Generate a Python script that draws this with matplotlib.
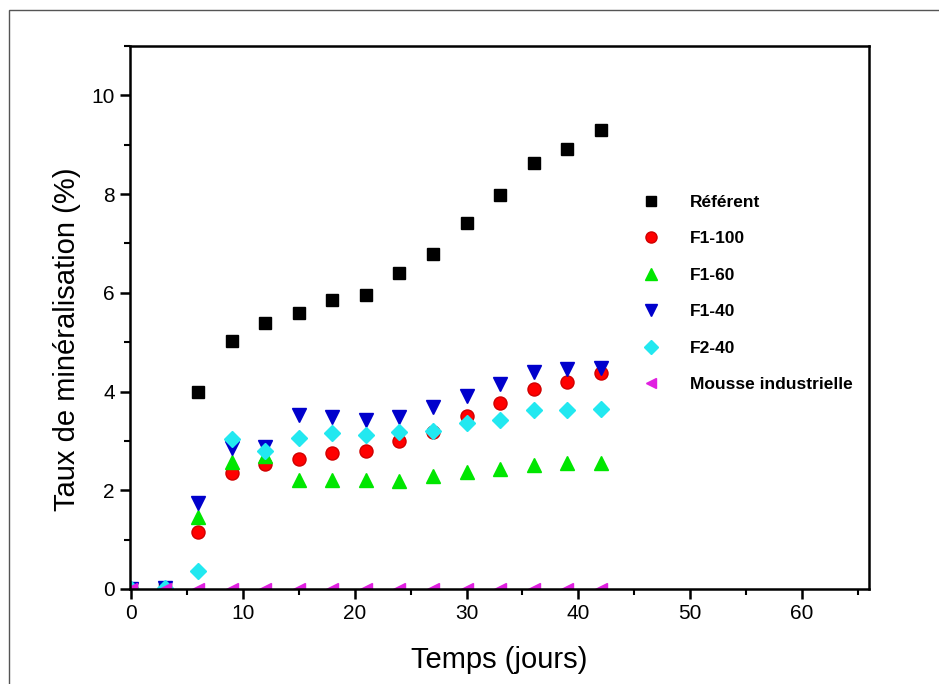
import numpy as np
import matplotlib
matplotlib.use('Agg')
import matplotlib.pyplot as plt
from matplotlib.patches import Rectangle
from matplotlib.ticker import MultipleLocator

plt.rcParams['font.family'] = ['Liberation Sans', 'DejaVu Sans']

# Données
jours = [0, 3, 6, 9, 12, 15, 18, 21, 24, 27, 30, 33, 36, 39, 42]
referent = [0, 0, 4.0, 5.02, 5.38, 5.6, 5.85, 5.96, 6.4, 6.78, 7.41, 7.99, 8.63, 8.92, 9.3]
f1_100 = [0, 0, 1.16, 2.36, 2.54, 2.64, 2.75, 2.8, 2.99, 3.19, 3.5, 3.76, 4.05, 4.19, 4.38]
f1_60 = [0, 0, 1.46, 2.57, 2.7, 2.2, 2.2, 2.2, 2.19, 2.29, 2.37, 2.43, 2.51, 2.55, 2.56]
f1_40 = [0, 0.02, 1.74, 2.85, 2.88, 3.52, 3.48, 3.42, 3.48, 3.68, 3.9, 4.15, 4.39, 4.45, 4.48]
f2_40 = [0, 0.02, 0.37, 3.04, 2.8, 3.06, 3.17, 3.12, 3.18, 3.21, 3.37, 3.43, 3.62, 3.62, 3.64]
mousse = [0] * 15

fig = plt.figure(figsize=(9.39, 6.84), dpi=100)
ax = fig.add_axes([130 / 939, 1 - 589 / 684, 739 / 939, 543 / 684])

# cadre extérieur de l'image
fig.patches.append(Rectangle((9 / 939, -0.1), 1.2, 1.1 - 10 / 684, transform=fig.transFigure,
                             fill=False, edgecolor='#555555', lw=1.0))

ax.plot(jours, referent, 's', color='black', ms=9.2, label='Référent')
ax.plot(jours, f1_100, 'o', color='#ff0000', mec='#d00000', ms=9.4, label='F1-100')
ax.plot(jours, f1_60, '^', color='#00e600', mec='#00e600', ms=10.5, label='F1-60')
ax.plot(jours, f1_40, 'v', color='#0000cc', mec='#0000cc', ms=10.5, label='F1-40')
ax.plot(jours, f2_40, 'D', color='#22e8f0', mec='#22e8f0', ms=8.2, label='F2-40')
ax.plot(jours, mousse, '<', color='#e020e0', mec='#e020e0', ms=9, label='Mousse industrielle')

ax.set_xlim(-0.1, 66)
ax.set_ylim(0, 11)
ax.xaxis.set_major_locator(MultipleLocator(10))
ax.xaxis.set_minor_locator(MultipleLocator(5))
ax.yaxis.set_major_locator(MultipleLocator(2))
ax.yaxis.set_minor_locator(MultipleLocator(1))
ax.tick_params(which='major', direction='out', length=7, width=1.8, labelsize=15, pad=4)
ax.tick_params(which='minor', direction='out', length=4, width=1.5)
for sp in ax.spines.values():
    sp.set_linewidth(1.8)

ax.set_xlabel('Temps (jours)', fontsize=21, labelpad=16)
ax.set_ylabel('Taux de minéralisation (%)', fontsize=21)
ax.yaxis.set_label_coords(-0.066, 0.46)

leg = ax.legend(loc='upper left', bbox_to_anchor=(0.672, 0.755), frameon=False,
                prop={'weight': 'bold', 'size': 12.5}, markerscale=0.85,
                labelspacing=1.23, handlelength=1.0, handletextpad=1.75)

fig.savefig('out.png', dpi=100)
